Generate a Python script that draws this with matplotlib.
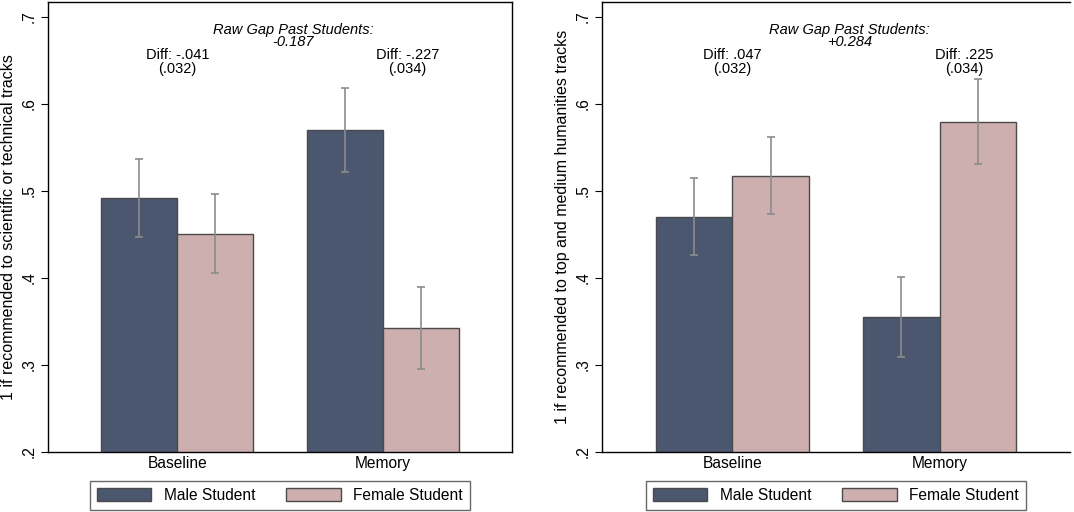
import matplotlib
matplotlib.use("Agg")
import matplotlib.pyplot as plt
import numpy as np
from matplotlib.patches import Patch

plt.rcParams['font.family'] = ['Liberation Sans', 'DejaVu Sans']

categories = ["Baseline", "Memory"]
series_names = ["Male Student", "Female Student"]

# Left panel: scientific/technical tracks
left_male = [0.492, 0.570]
left_female = [0.451, 0.342]
left_male_ci_low = [0.447, 0.522]
left_male_ci_high = [0.537, 0.618]
left_female_ci_low = [0.406, 0.295]
left_female_ci_high = [0.496, 0.390]
left_diffs = ["Diff: -.041\n(.032)", "Diff: -.227\n(.034)"]
left_raw_gap = "Raw Gap Past Students:\n-0.187"
left_ylabel = "1 if recommended to scientific or technical tracks"

# Right panel: top and medium humanities tracks
right_male = [0.470, 0.355]
right_female = [0.517, 0.579]
right_male_ci_low = [0.426, 0.309]
right_male_ci_high = [0.515, 0.401]
right_female_ci_low = [0.473, 0.531]
right_female_ci_high = [0.562, 0.629]
right_diffs = ["Diff: .047\n(.032)", "Diff: .225\n(.034)"]
right_raw_gap = "Raw Gap Past Students:\n+0.284"
right_ylabel = "1 if recommended to top and medium humanities tracks"

yticks = [0.2, 0.3, 0.4, 0.5, 0.6, 0.7]
ytick_labels = [".2", ".3", ".4", ".5", ".6", ".7"]

male_color = "#4b566f"
female_color = "#cdafb0"
edge_color = "#4a4a4a"
err_color = "#8c8c8c"
FS = 11.2
FS_ANN = 10.5

fig = plt.figure(figsize=(10.74, 5.12), dpi=100)
ax1 = fig.add_axes([48/1074, 1-452/512, 464/1074, 450/512])
ax2 = fig.add_axes([602/1074, 1-452/512, 468/1074, 450/512])

w = 0.37

def draw(ax, male, female, mlo, mhi, flo, fhi, diffs, raw, ylabel, hide_right):
    x = np.arange(len(categories))
    ax.bar(x - w/2, male, w, bottom=0, color=male_color, edgecolor=edge_color, linewidth=1.0, zorder=2)
    ax.bar(x + w/2, female, w, bottom=0, color=female_color, edgecolor=edge_color, linewidth=1.0, zorder=2)
    m = np.array(male); f = np.array(female)
    ax.errorbar(x - w/2, m, yerr=[m - np.array(mlo), np.array(mhi) - m], fmt='none',
                ecolor=err_color, elinewidth=1.2, capsize=2.8, capthick=1.2, zorder=3)
    ax.errorbar(x + w/2, f, yerr=[f - np.array(flo), np.array(fhi) - f], fmt='none',
                ecolor=err_color, elinewidth=1.2, capsize=2.8, capthick=1.2, zorder=3)
    ax.set_ylim(0.2, 0.717)
    ax.set_xlim(-0.63, 1.63)
    ax.set_yticks(yticks)
    ax.set_yticklabels(ytick_labels, rotation=90, va='center', fontsize=FS)
    ax.set_xticks(x)
    ax.set_xticklabels(categories, fontsize=FS)
    ax.tick_params(axis='x', length=0, pad=3)
    ax.tick_params(axis='y', length=5, width=0.8, pad=3)
    ax.set_ylabel(ylabel, fontsize=11.5, labelpad=4)
    for s in ax.spines.values():
        s.set_linewidth(1.0)
        s.set_color('black')
    if hide_right:
        ax.spines['right'].set_visible(False)
    ax.text(0.0, 0.648, diffs[0], ha='center', va='center', fontsize=FS_ANN, linespacing=1.0)
    ax.text(1.12, 0.648, diffs[1], ha='center', va='center', fontsize=FS_ANN, linespacing=1.0)
    ax.text(0.565, 0.678, raw, ha='center', va='center', fontsize=FS_ANN, style='italic', linespacing=0.85)
    handles = [Patch(facecolor=male_color, edgecolor=edge_color, label=series_names[0]),
               Patch(facecolor=female_color, edgecolor=edge_color, label=series_names[1])]
    leg = ax.legend(handles=handles, loc='upper center', bbox_to_anchor=(0.5, -0.064), ncol=2,
                    fontsize=FS, frameon=True, fancybox=False, edgecolor='#444444',
                    handlelength=3.5, handleheight=0.9, columnspacing=2.0, handletextpad=0.8,
                    borderpad=0.45, borderaxespad=0)
    leg.get_frame().set_linewidth(1.0)

draw(ax1, left_male, left_female, left_male_ci_low, left_male_ci_high,
     left_female_ci_low, left_female_ci_high, left_diffs, left_raw_gap, left_ylabel, False)
draw(ax2, right_male, right_female, right_male_ci_low, right_male_ci_high,
     right_female_ci_low, right_female_ci_high, right_diffs, right_raw_gap, right_ylabel, True)

fig.savefig("out.png", dpi=100)
